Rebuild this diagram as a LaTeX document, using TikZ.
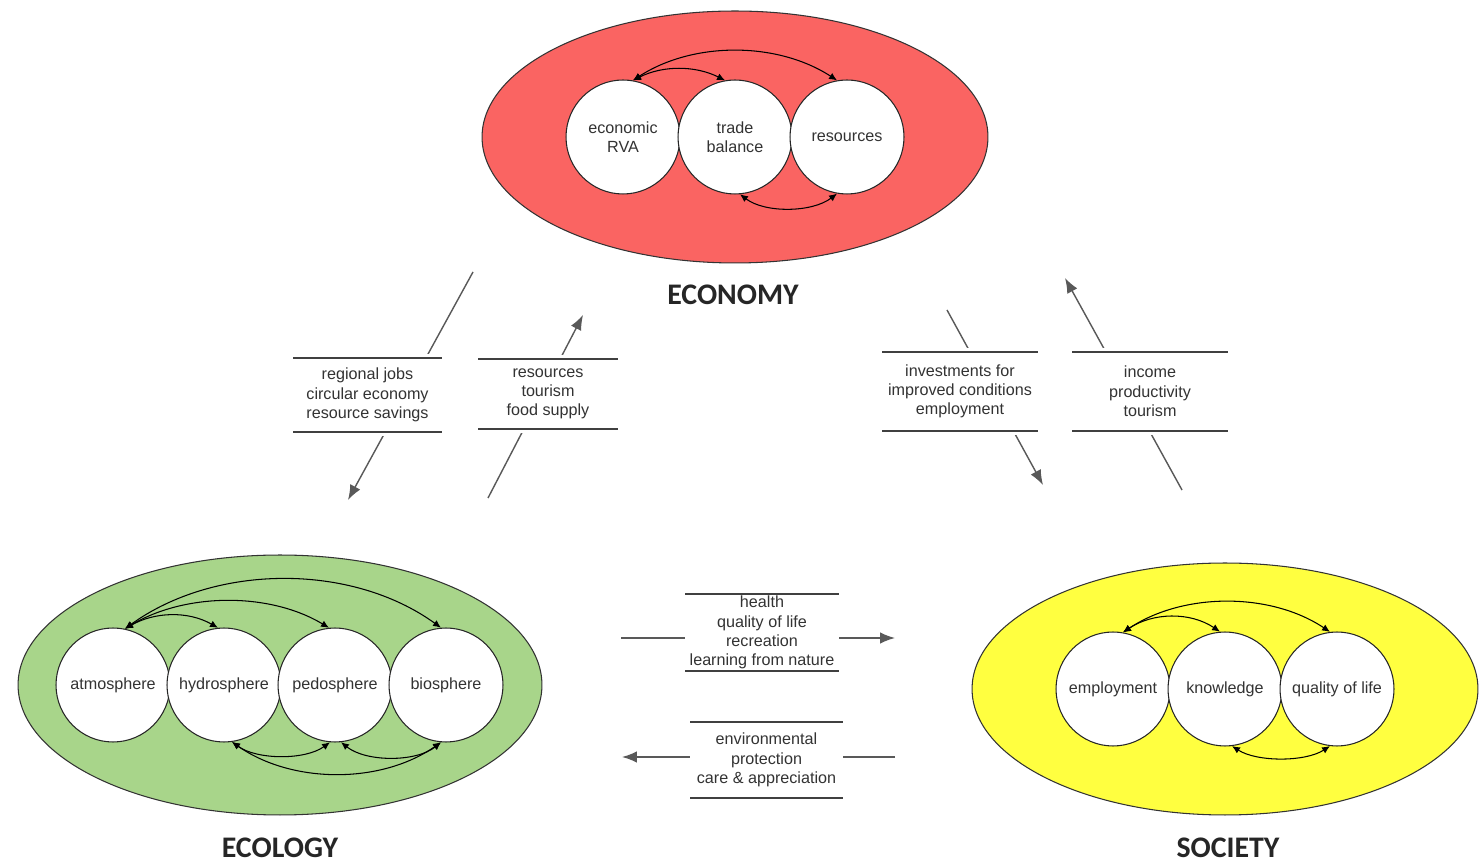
\documentclass[tikz,border=0pt]{standalone}
\usepackage{fontspec}
\setmainfont{Liberation Sans}
\newfontfamily\headfont{Carlito}
\usepackage{tikz}
\usetikzlibrary{arrows.meta}
\usetikzlibrary{shapes.geometric}
\definecolor{econred}{RGB}{250,100,98}
\definecolor{ecogreen}{RGB}{168,213,138}
\definecolor{socyellow}{RGB}{255,255,64}
\tikzset{
pillar/.style={shape=ellipse, draw=black!80, line width=0.6pt, inner sep=0pt},
unit/.style={shape=circle, draw=black!85, fill=white, line width=0.6pt, minimum size=2.28cm, inner sep=0pt,
    align=center, font=\fontsize{9.2}{11}\selectfont, text=black!80},
bond/.style={{Latex[length=4.5pt,width=4pt]}-{Latex[length=4.5pt,width=4pt]}, line width=0.6pt, black},
flow/.style={-{Latex[length=8.5pt,width=6.5pt]}, line width=0.8pt, black!65},
tag/.style n args={2}{minimum width=#1, minimum height=#2, inner sep=0pt, fill=white, align=center,
    font=\fontsize{9.2}{11}\selectfont, text=black!80,
    path picture={
        \draw[black!75, line width=0.85pt] ([yshift=-2.5pt]path picture bounding box.north west) -- ([yshift=-2.5pt]path picture bounding box.north east);
        \draw[black!75, line width=0.85pt] ([yshift=2.5pt]path picture bounding box.south west) -- ([yshift=2.5pt]path picture bounding box.south east);
    }},
headline/.style={font=\headfont\fontsize{17}{20}\selectfont\bfseries, text=black!85}
}

\begin{document}
\begin{tikzpicture}[x=0.02cm, y=0.02cm]

                \fill[white] (0,0) rectangle (1480,865);

                \node[pillar, fill=econred, minimum width=10.12cm, minimum height=5.04cm] (economy) at (735,728) {};
                \node[pillar, fill=ecogreen, minimum width=10.48cm, minimum height=5.2cm] (ecology) at (280,180) {};
                \node[pillar, fill=socyellow, minimum width=10.12cm, minimum height=5.04cm] (society) at (1225,176) {};

                \node[unit] (rva) at (623,728) {economic\\RVA};
                \node[unit] (trade) at (735,728) {trade\\balance};
                \node[unit] (res) at (847,728) {resources};

                \node[unit] (atmo) at (113,180) {atmosphere};
                \node[unit] (hydro) at (224,180) {hydrosphere};
                \node[unit] (pedo) at (335,180) {pedosphere};
                \node[unit] (bio) at (446,180) {biosphere};

                \node[unit] (empl) at (1113,176) {employment};
                \node[unit] (know) at (1225,176) {knowledge};
                \node[unit] (qol) at (1337,176) {quality of life};

                \draw[bond] (rva.80) .. controls +(30,15) and +(-30,15) .. (trade.100);
                \draw[bond] (rva.80) .. controls +(60,39) and +(-60,39) .. (res.100);
                \draw[bond] (trade.-85) .. controls +(25,-19) and +(-25,-19) .. (res.-100);

                \draw[bond] (atmo.78) .. controls +(30,17) and +(-30,17) .. (hydro.96);
                \draw[bond] (atmo.78) .. controls +(60,36) and +(-60,36) .. (pedo.96);
                \draw[bond] (atmo.78) .. controls +(90,65) and +(-90,65) .. (bio.95);
                \draw[bond] (hydro.-82) .. controls +(25,-18) and +(-25,-18) .. (pedo.-95);
                \draw[bond] (pedo.-84) .. controls +(25,-20) and +(-25,-20) .. (bio.-95);
                \draw[bond] (hydro.-82) .. controls +(60,-42) and +(-60,-42) .. (bio.-95);

                \draw[bond] (empl.80) .. controls +(30,20) and +(-30,20) .. (know.95);
                \draw[bond] (empl.80) .. controls +(60,40) and +(-60,40) .. (qol.97);
                \draw[bond] (know.-83) .. controls +(25,-16) and +(-25,-16) .. (qol.-97);

                \node[headline] (econame) at (733,570) {ECONOMY};
                \node[headline] (ecolname) at (280,17) {ECOLOGY};
                \node[headline] (socname) at (1228,17) {SOCIETY};

                \coordinate (jobs-in) at (473,593);
                \coordinate (jobs-out) at (348,365);
                \coordinate (supply-in) at (488,367);
                \coordinate (supply-out) at (583,550);
                \coordinate (invest-in) at (947,555);
                \coordinate (invest-out) at (1043,380);
                \coordinate (income-in) at (1182,375);
                \coordinate (income-out) at (1065,587);
                \coordinate (health-in) at (621,227);
                \coordinate (health-out) at (895,227);
                \coordinate (protect-in) at (895,108);
                \coordinate (protect-out) at (622,108);

                \draw[flow] (jobs-in) -- (jobs-out);
                \draw[flow] (supply-in) -- (supply-out);
                \draw[flow] (invest-in) -- (invest-out);
                \draw[flow] (income-in) -- (income-out);
                \draw[flow] (health-in) -- (health-out);
                \draw[flow] (protect-in) -- (protect-out);

                \node[tag={2.98cm}{1.48cm+5pt}] (jobs) at (367.5,470) {regional jobs\\circular economy\\resource savings};
                \node[tag={2.8cm}{1.40cm+5pt}] (supply) at (548,471) {resources\\tourism\\food supply};
                \node[tag={3.12cm}{1.58cm+5pt}] (invest) at (960,473.5) {investments for\\improved conditions\\employment};
                \node[tag={3.12cm}{1.58cm+5pt}] (income) at (1150,473.5) {income\\productivity\\tourism};
                \node[tag={3.08cm}{1.54cm+5pt}] (health) at (762,232.5) {health\\quality of life\\recreation\\learning from nature};
                \node[tag={3.06cm}{1.52cm+5pt}] (protect) at (766.5,105) {environmental\\protection\\care \& appreciation};

\end{tikzpicture}
\end{document}
